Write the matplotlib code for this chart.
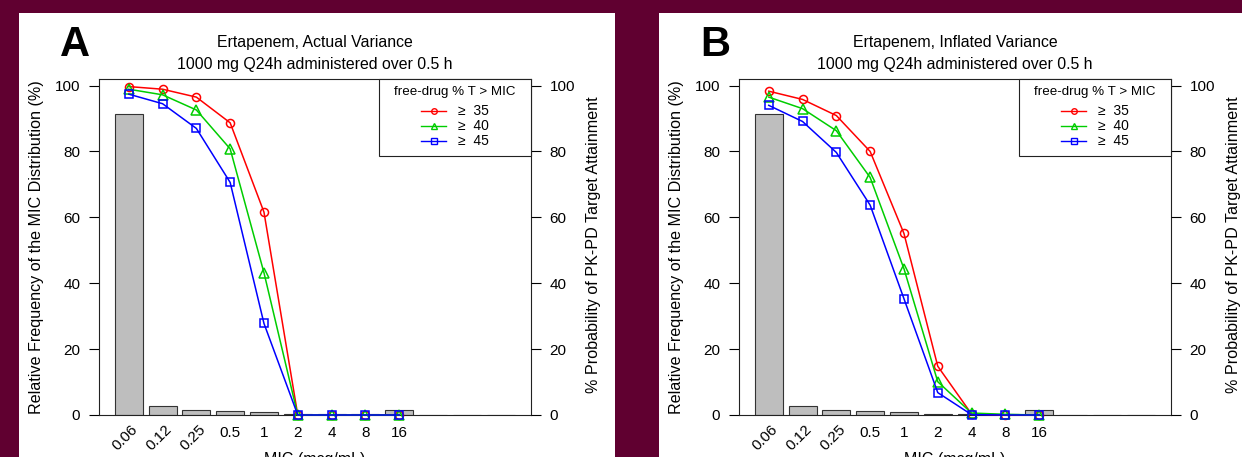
import matplotlib
matplotlib.use('Agg')
import matplotlib.pyplot as plt
from matplotlib.patches import Rectangle
from matplotlib.lines import Line2D
import numpy as np

plt.rcParams['font.family'] = ['Liberation Sans', 'DejaVu Sans']

# MIC distribution (same in both panels)
mic_labels = ['0.06', '0.12', '0.25', '0.5', '1', '2', '4', '8', '16', '', '', '']
mic_freq = [91.3, 2.8, 1.6, 1.3, 0.8, 0.4, 0.2, 0.2, 1.5, 0, 0, 0]

# % probability of target attainment at each MIC (0.06 .. 16)
actual_35 = [99.7, 98.9, 96.5, 88.7, 61.6, 0, 0, 0, 0]
actual_40 = [98.9, 97.2, 92.6, 80.8, 43.2, 0, 0, 0, 0]
actual_45 = [97.4, 94.5, 87.0, 70.6, 27.8, 0, 0, 0, 0]

inflated_35 = [98.3, 95.8, 90.9, 80.0, 55.1, 14.8, 0.3, 0, 0]
inflated_40 = [96.5, 93.0, 86.3, 72.1, 44.4, 10.1, 0.6, 0.2, 0]
inflated_45 = [94.0, 89.1, 79.7, 63.7, 35.3, 6.8, 0.1, 0, 0]

targets = ['35', '40', '45']
colors = ['#ff0000', '#00cd00', '#0000ff']
markers = ['o', '^', 's']
msizes = [5.8, 7.8, 5.6]

W, H = 1242, 457
fig = plt.figure(figsize=(W / 100, H / 100), dpi=100)
fig.patch.set_facecolor('#600030')

AX_W, AX_H = 432, 336


def fx(px):
    # pixel (panel A frame) -> axes fraction (x)
    return (px - 99) / AX_W


def fy(py):
    return (415 - py) / AX_H


def panel(off, letter, title, series):
    # white card behind each panel
    fig.add_artist(Rectangle(((19 + off) / W, -0.1), 596 / W, 1.1 - 13 / H,
                             transform=fig.transFigure, facecolor='white',
                             edgecolor='none', zorder=-5))
    ax = fig.add_axes([(99 + off) / W, 1 - 415 / H, AX_W / W, AX_H / H])
    ax.set_zorder(1)
    x = np.arange(len(mic_labels))
    ax.bar(x, mic_freq, width=0.83, color='#bebebe', edgecolor='#333333', linewidth=0.8)
    ax.set_xlim(-0.88, 11.9)
    ax.set_ylim(0, 102)
    ax.set_yticks([0, 20, 40, 60, 80, 100])
    ax.tick_params(axis='y', length=7.5, width=0.8, pad=6, labelsize=11)
    ax.set_xticks([])
    for s in ax.spines.values():
        s.set_linewidth(0.8)
        s.set_color('#222222')

    # x tick labels
    xt = ax.get_xaxis_transform()
    for i, lab in enumerate(mic_labels):
        if not lab:
            continue
        if i < 3:
            ax.text(i - 0.1, fy(437.5), lab, transform=xt, rotation=45,
                    ha='center', va='center', fontsize=11)
        else:
            ax.text(i, fy(433), lab, transform=xt, ha='center', va='center', fontsize=11)
    ax.text(0.5, fy(452), 'MIC (mcg/mL)', transform=ax.transAxes, ha='center', va='top', fontsize=11.5)

    ax.text(fx(37), 0.5, 'Relative Frequency of the MIC Distribution (%)',
            transform=ax.transAxes, rotation=90, ha='center', va='center', fontsize=11.6)

    ax.text(0.5, fy(43), title[0], transform=ax.transAxes, ha='center', va='center', fontsize=11.4)
    ax.text(0.5, fy(64), title[1], transform=ax.transAxes, ha='center', va='center', fontsize=11.4)
    ax.text(fx(75), fy(45), letter, transform=ax.transAxes, ha='center',
            va='center', fontsize=30, fontweight='bold')

    ax2 = ax.twinx()
    ax2.set_ylim(0, 102)
    ax2.set_yticks([0, 20, 40, 60, 80, 100])
    ax2.tick_params(axis='y', length=7.5, width=0.8, pad=6, labelsize=11)
    for s in ax2.spines.values():
        s.set_visible(False)
    ax2.text(1.145, 0.508, '% Probability of PK-PD Target Attainment', transform=ax.transAxes,
             rotation=90, ha='center', va='center', fontsize=11.6)

    xs = np.arange(len(series[0]))
    for ys, c, m, ms in zip(series, colors, markers, msizes):
        ax2.plot(xs, ys, color=c, marker=m, markersize=ms, markerfacecolor='none',
                 markeredgecolor=c, markeredgewidth=1.1, linewidth=1.1, clip_on=False)

    # legend box
    ax2.add_patch(Rectangle((fx(379), fy(155.7)), 152 / AX_W, (155.7 - 79) / AX_H,
                            transform=ax2.transAxes, facecolor='white', edgecolor='#222222',
                            linewidth=0.8, zorder=5, clip_on=False))
    ax2.text(fx(455), fy(91.7), 'free-drug % T > MIC', transform=ax2.transAxes,
             ha='center', va='center', fontsize=9.6, zorder=6)
    for k, (t, c, m) in enumerate(zip(targets, colors, markers)):
        yy = fy([111, 126, 140.7][k])
        ax2.add_line(Line2D([fx(421), fx(446)], [yy, yy], transform=ax2.transAxes,
                            color=c, linewidth=1.0, zorder=6))
        ax2.add_line(Line2D([fx(433.5)], [yy], transform=ax2.transAxes, color=c,
                            marker=m, markersize=4, markerfacecolor='none',
                            markeredgewidth=1.0, zorder=6))
        ax2.text(fx(458), yy, '\u2265  ' + t, transform=ax2.transAxes,
                 ha='left', va='center', fontsize=10, zorder=6)
    return ax


panel(0, 'A', ['Ertapenem, Actual Variance', '1000 mg Q24h administered over 0.5 h'],
      [actual_35, actual_40, actual_45])
panel(640, 'B', ['Ertapenem, Inflated Variance', '1000 mg Q24h administered over 0.5 h'],
      [inflated_35, inflated_40, inflated_45])

fig.savefig('out.png', dpi=100, facecolor=fig.get_facecolor())
